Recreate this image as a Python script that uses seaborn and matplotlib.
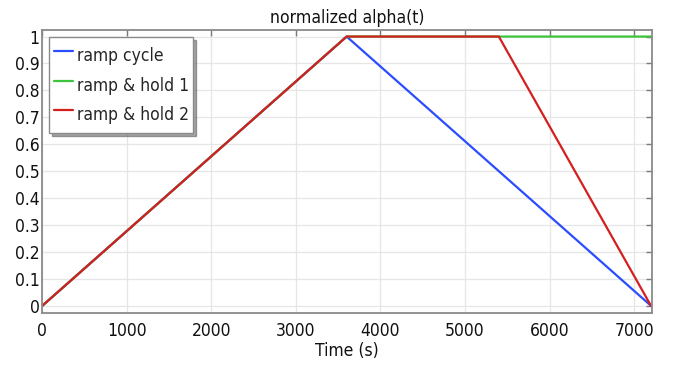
import matplotlib
matplotlib.use("Agg")
import matplotlib.pyplot as plt
import seaborn as sns
import pandas as pd

series_names = ["ramp cycle", "ramp & hold 1", "ramp & hold 2"]
ramp_cycle_t = [0, 3600, 7200]
ramp_cycle_v = [0, 1, 0]
hold1_t = [0, 3600, 7200]
hold1_v = [0, 1, 1]
hold2_t = [0, 3600, 5400, 7200]
hold2_v = [0, 1, 1, 0]
colors = ["#2b4cff", "#3cc43c", "#d41f1f"]
x_ticks = [0, 1000, 2000, 3000, 4000, 5000, 6000, 7000]
y_ticks = [0, 0.1, 0.2, 0.3, 0.4, 0.5, 0.6, 0.7, 0.8, 0.9, 1]
y_tick_labels = ["0", "0.1", "0.2", "0.3", "0.4", "0.5", "0.6", "0.7", "0.8", "0.9", "1"]

rows = []
for name, ts, vs in zip(series_names,
                        [ramp_cycle_t, hold1_t, hold2_t],
                        [ramp_cycle_v, hold1_v, hold2_v]):
    for t, v in zip(ts, vs):
        rows.append({"Time (s)": t, "alpha": v, "series": name})
df = pd.DataFrame(rows)

sns.set_style("white")
plt.rcParams['font.family'] = ['DejaVu Sans']
plt.rcParams['font.stretch'] = 'condensed'

fig = plt.figure(figsize=(6.79, 3.67), dpi=100)
ax = fig.add_axes([0.0623, 0.1463, 0.8977, 0.7717])

sns.lineplot(data=df, x="Time (s)", y="alpha", hue="series",
             hue_order=series_names, palette=colors, linewidth=1.6,
             estimator=None, sort=False, ax=ax)

ax.set_xlim(0, 7210)
ax.set_ylim(-0.028, 1.024)
ax.set_xticks(x_ticks)
ax.set_xticklabels([str(t) for t in x_ticks])
ax.set_yticks(y_ticks)
ax.set_yticklabels(y_tick_labels)
ax.grid(True, color="#e6e6e6", linewidth=0.9)
ax.set_axisbelow(True)
ax.tick_params(direction="in", length=4, width=1, color="#7a7a7a",
               labelsize=12.5, pad=2, top=True, right=True, labelcolor="#111111")
ax.tick_params(axis="x", pad=6)
for sp in ax.spines.values():
    sp.set_color("#8a8a8a")
    sp.set_linewidth(1.3)

ax.set_xlabel("Time (s)", fontsize=12.5, labelpad=2, color="#111111")
ax.set_ylabel("")
ax.set_title("normalized alpha(t)", fontsize=12.6, pad=5, color="#111111")

leg = ax.legend(loc="upper left", fontsize=12.5, frameon=True, fancybox=False,
                shadow=True, handlelength=1.1, handleheight=2.15, handletextpad=0.25,
                borderaxespad=0.4, borderpad=0.25, labelspacing=0.06)
leg.get_frame().set_edgecolor("#8a8a8a")
leg.get_frame().set_linewidth(1.0)
for line in leg.get_lines():
    line.set_linewidth(1.6)

fig.savefig("out.png", dpi=100)
